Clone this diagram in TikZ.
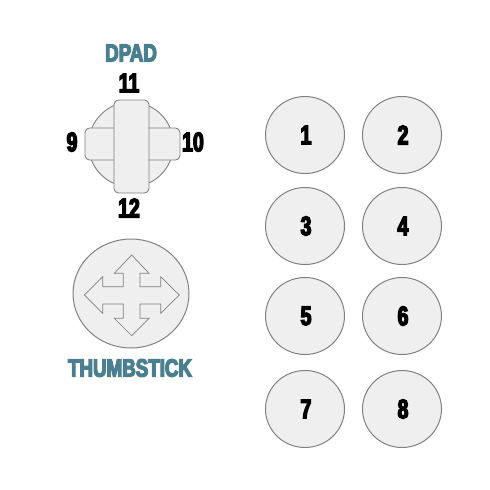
\documentclass[tikz,border=0pt]{standalone}
\usepackage{fontspec}
\usetikzlibrary{shapes.geometric}
\newfontfamily\impactish[FakeStretch=0.75,FakeBold=5]{Liberation Sans Bold}
\newfontfamily\impactnum[FakeStretch=0.72,FakeBold=5]{Liberation Sans Bold}
\definecolor{fillgrey}{HTML}{EFEFEF}
\definecolor{edgegrey}{HTML}{808080}
\definecolor{teal}{HTML}{4A7F90}
\tikzset{
  btn/.style={ellipse,draw=edgegrey,fill=fillgrey,line width=1pt,minimum width=79pt,minimum height=77pt,inner sep=0pt,font=\impactnum\fontsize{27}{27}\selectfont,text=black},
  padbar/.style={rectangle,rounded corners=4.5pt,draw=edgegrey,fill=fillgrey,line width=.9pt,inner sep=0pt},
  num/.style={font=\impactnum\fontsize{27}{27}\selectfont,text=black,inner sep=0pt},
  heading/.style={font=\impactish\fontsize{25}{25}\selectfont,text=teal,inner sep=0pt}
}
\begin{document}
\begin{tikzpicture}[x=1pt,y=-1pt]
\useasboundingbox (0,0) rectangle (490,490);
\fill[white] (0,0) rectangle (490,490);
\node[btn] (b1) at (305,135) {\hspace{2pt}1};
\node[btn] (b2) at (402,135) {\hspace{2pt}2};
\node[btn] (b3) at (305,226) {\hspace{2pt}3};
\node[btn] (b4) at (402,226) {\hspace{2pt}4};
\node[btn] (b5) at (305,316) {\hspace{2pt}5};
\node[btn] (b6) at (402,316) {\hspace{2pt}6};
\node[btn] (b7) at (305,409) {\hspace{2pt}7};
\node[btn] (b8) at (402,409) {\hspace{2pt}8};
\node[heading] (dpad) at (131,53) {DPAD};
\node[num] (n11) at (129,83) {11};
\node[num] (n9) at (72,142) {9};
\node[num] (n10) at (193,142) {10};
\node[num] (n12) at (129,208) {12};
\node[circle,draw=edgegrey,fill=fillgrey,line width=.9pt,minimum size=85pt,inner sep=0pt] (padbase) at (131,144.5) {};
\node[padbar,minimum width=95pt,minimum height=32pt] (padh) at (132.5,144) {};
\node[padbar,minimum width=35pt,minimum height=93pt] (padv) at (131.5,146.5) {};
\node[ellipse,draw=edgegrey,fill=fillgrey,line width=1pt,minimum width=116pt,minimum height=109pt,inner sep=0pt] (stick) at (131,293.5) {};
\draw[edgegrey,line width=.7pt,fill=fillgrey,line join=miter]
  (131.7,255) -- (149,273.3) -- (140,273.3) -- (140,286.7) -- (160.7,286.7) -- (160.7,276.7)
  -- (179.3,295) -- (160.7,313.3) -- (160.7,304) -- (140,304) -- (140,318.3) -- (149,318.3)
  -- (131.7,335.7) -- (114.3,318.3) -- (123.3,318.3) -- (123.3,304) -- (102.7,304) -- (102.7,313.3)
  -- (84.3,295) -- (102.7,276.7) -- (102.7,286.7) -- (123.3,286.7) -- (123.3,273.3) -- (114.3,273.3) -- cycle;
\node[heading] (thumb) at (130,368) {THUMBSTICK};
\end{tikzpicture}
\end{document}
